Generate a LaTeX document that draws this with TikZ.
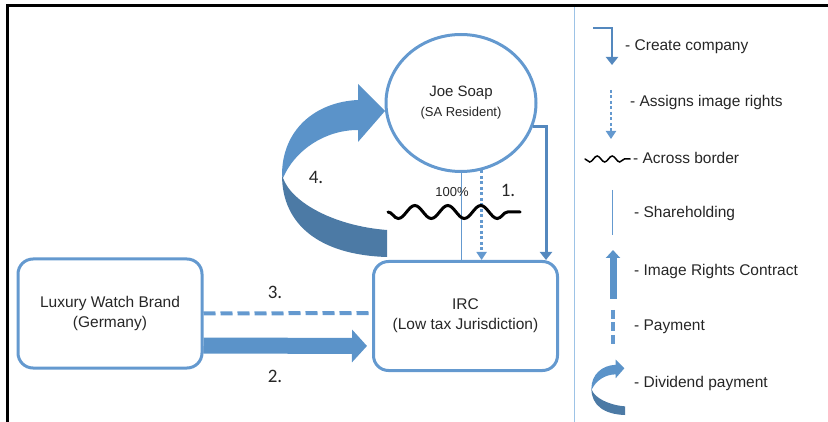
\documentclass[tikz,border=0pt]{standalone}
\usepackage{fontspec}
\setmainfont{Liberation Sans}
\newfontfamily\numfont{Carlito}
\usetikzlibrary{arrows.meta,shapes.geometric,decorations.pathmorphing}

\definecolor{boxblue}{RGB}{100,153,207}
\definecolor{arrowblue}{RGB}{91,147,201}
\definecolor{lineblue}{RGB}{84,136,190}
\definecolor{darkblue}{RGB}{76,122,165}
\definecolor{divider}{RGB}{157,195,230}
\definecolor{ink}{RGB}{38,38,38}

\tikzset{
  party/.style={draw=boxblue, line width=3pt, rounded corners=15pt,
    minimum width=184pt, minimum height=109pt, align=center, text=ink,
    font=\fontsize{15.5}{20}\selectfont},
  person/.style={ellipse, draw=boxblue, line width=3pt, minimum width=150pt,
    minimum height=137pt, align=center, text=ink,
    font=\fontsize{15}{20}\selectfont},
  create/.style={draw=lineblue, line width=3pt, -{Triangle[length=8pt,width=12pt]}},
  assign/.style={draw=boxblue, line width=3pt, dash pattern=on 3pt off 2.5pt,
    -{Triangle[length=8pt,width=10pt]}},
  share/.style={draw=boxblue, line width=0.8pt},
  border/.style={draw=black, line width=3pt, line cap=round,
    decorate, decoration={snake, segment length=33pt, amplitude=6.5pt, mirror}},
  payment/.style={draw=boxblue, line width=4pt, dash pattern=on 12pt off 5pt},
  contract/.style={draw=arrowblue, line width=16pt, shorten >=5pt,
    -{Triangle[length=15pt,width=32pt]}},
  num/.style={text=ink, font=\numfont\fontsize{19}{22}\selectfont},
  key/.style={anchor=west, inner sep=0pt, text=ink,
    font=\fontsize{15.5}{20}\selectfont},
  dividend/.pic={
    \fill [arrowblue] (-105,-82) .. controls (-105,-127) and (-72,-155) .. (-29,-157)
      -- (-29,-173) -- (-2,-146) -- (-29,-115) -- (-29,-127)
      .. controls (-62,-127) and (-92,-107) .. (-104,-79) -- cycle;
    \fill [darkblue] (-105,-82) .. controls (-105,-32) and (-67,-2) .. (0,0)
      -- (0,-27) .. controls (-52,-31) and (-95,-54) .. (-104,-79) -- cycle;
  }
}

\begin{document}
\begin{tikzpicture}[
  x=1pt, y=-1pt
]
\useasboundingbox (0,0) rectangle (828,422);

% frame and divider
\draw [line width=3pt] (7.5,422) |- (828,6);
\draw [divider, line width=1pt] (574,7.5) -- (574,422);

% parties
\node [person] (joe) at (461,103) {Joe Soap\\{\fontsize{13}{16}\selectfont (SA Resident)}};
\node [party] (irc) at (465.5,316) {IRC\\(Low tax Jurisdiction)};
\node [party] (brand) at (110,313.5) {Luxury Watch Brand\\(Germany)};

% flows
\draw [create] (joe.-18) -| ([xshift=-13pt]irc.north east);
\draw [assign] (joe.-73) -- (joe.-73 |- irc.north);
\draw [share] (joe.south) -- (joe.south |- irc.north);
\coordinate (wave start) at (388,212);
\coordinate (wave end) at (520,212);
\draw [border] (wave start) -- (wave end);
\draw [payment] (brand.east) -- ([yshift=3pt]irc.west);
\draw [contract] ([yshift=-32pt]brand.east) -- ([yshift=-30pt]irc.west);
\pic at (387,257) {dividend};

\node [num] (n1) at (508,190) {1.};
\node [num] (n2) at (275,376) {2.};
\node [num] (n3) at (275,292) {3.};
\node [num] (n4) at (316,177) {4.};
\node [text=ink, font=\fontsize{13}{16}\selectfont] (pct) at (452,192) {100\%};

% legend
\coordinate (create a) at (593,28);
\coordinate (create b) at (612,65);
\draw [create, line width=2.5pt] (create a) -| (create b);
\node [key] (k1) at (625,47) {- Create company};

\coordinate (assign a) at (611,90);
\coordinate (assign b) at (611,139);
\draw [assign, line width=2.5pt] (assign a) -- (assign b);
\node [key] (k2) at (630,102) {- Assigns image rights};

\coordinate (border a) at (585,159);
\coordinate (border b) at (630,159);
\draw [border, line width=1.5pt, decoration={segment length=15pt, amplitude=3pt}] (border a) -- (border b);
\node [key] (k3) at (633,158) {- Across border};

\coordinate (share a) at (612,190);
\coordinate (share b) at (612,235);
\draw [share] (share a) -- (share b);
\node [key] (k4) at (634,213) {- Shareholding};

\coordinate (contract a) at (613,299);
\coordinate (contract b) at (613,250);
\draw [contract, line width=7pt, shorten >=0pt, -{Triangle[length=8pt,width=14pt]}] (contract a) -- (contract b);
\node [key] (k5) at (634,271) {- Image Rights Contract};

\coordinate (payment a) at (613,310);
\coordinate (payment b) at (613,345);
\draw [payment, line width=3.5pt, dash pattern=on 9pt off 3.5pt] (payment a) -- (payment b);
\node [key] (k6) at (634,327) {- Payment};

\pic [scale=0.32] at (625,415) {dividend};
\node [key] (k7) at (634,383) {- Dividend payment};
\end{tikzpicture}
\end{document}
